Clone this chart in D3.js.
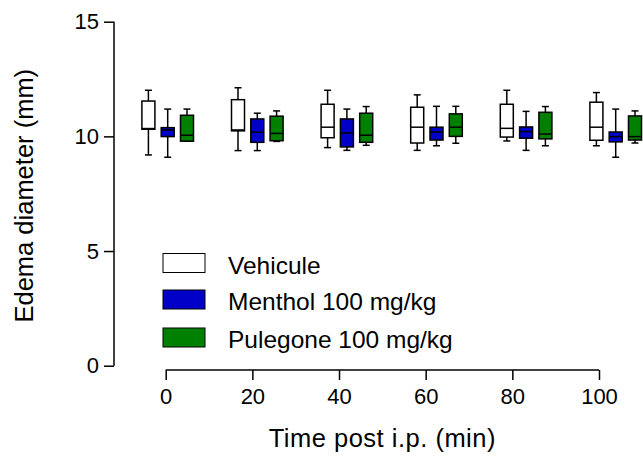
<!DOCTYPE html>
<html>
<head>
<meta charset="utf-8">
<script src="https://cdn.jsdelivr.net/npm/d3@7"></script>
<style>
  html, body { margin: 0; padding: 0; background: #fff; }
  svg { display: block; }
  text { font-family: "Liberation Sans", Arial, sans-serif; fill: #000; }
</style>
</head>
<body>
<script>
// ---- data ----
const times = [0, 20, 40, 60, 80, 100];
const seriesNames = ["Vehicule", "Menthol 100 mg/kg", "Pulegone 100 mg/kg"];
const seriesColors = ["#ffffff", "#0000c8", "#008000"];
const yTicks = [0, 5, 10, 15];
const xTicks = [0, 20, 40, 60, 80, 100];
// five-number summaries per time point: [min, q1, median, q3, max]
const vehicule = [
  [9.19, 10.31, 10.34, 11.54, 12.01],
  [9.38, 10.24, 10.28, 11.60, 12.12],
  [9.51, 9.94, 10.40, 11.40, 12.01],
  [9.39, 9.71, 10.40, 11.27, 11.81],
  [9.80, 9.97, 10.35, 11.40, 12.01],
  [9.59, 9.83, 10.40, 11.49, 11.91]
];
const menthol = [
  [9.09, 9.99, 10.28, 10.38, 11.19],
  [9.38, 9.74, 10.18, 10.76, 11.01],
  [9.39, 9.54, 10.15, 10.76, 11.19],
  [9.59, 9.84, 10.19, 10.40, 11.31],
  [9.39, 9.92, 10.21, 10.41, 11.09],
  [9.09, 9.76, 9.99, 10.19, 11.19]
];
const pulegone = [
  [9.79, 9.79, 10.05, 10.92, 11.19],
  [9.78, 9.81, 10.13, 10.88, 11.11],
  [9.61, 9.74, 10.05, 11.01, 11.30],
  [9.70, 10.00, 10.40, 10.98, 11.31],
  [9.59, 9.89, 10.10, 11.05, 11.30],
  [9.71, 9.84, 9.99, 10.89, 11.11]
];
const seriesData = [vehicule, menthol, pulegone];

// ---- layout ----
const W = 643, H = 461;
const svg = d3.select("body").append("svg").attr("width", W).attr("height", H);

const y = d3.scaleLinear().domain([0, 15]).range([365.7, 21.7]);
const xAxisScale = d3.scaleLinear().domain([0, 100]).range([165.7, 599]);
const xGroup = d3.scaleLinear().domain([0, 100]).range([167.7, 615.7]);
const xSeries = d3.scaleBand().domain(seriesNames).range([-25.8, 25.8]).paddingInner(0.326).paddingOuter(0);

const FONT = "Liberation Sans, Arial, sans-serif";

// y axis
const yAxis = svg.append("g").attr("transform", "translate(114,0)")
  .call(d3.axisLeft(y).tickValues(yTicks).tickSize(10).tickPadding(5).tickFormat(d3.format("d")));
yAxis.select(".domain").attr("stroke", "#000").attr("stroke-width", 1.5).attr("d", `M0,${y(15)}V${y(0)}`);
yAxis.selectAll(".tick line").attr("stroke", "#000").attr("stroke-width", 1.5);
yAxis.selectAll(".tick text").attr("font-size", 22).attr("font-family", FONT).attr("fill", "#000");

// x axis
const xAxis = svg.append("g").attr("transform", "translate(0,370)")
  .call(d3.axisBottom(xAxisScale).tickValues(xTicks).tickSize(10).tickPadding(8).tickFormat(d3.format("d")));
xAxis.select(".domain").attr("stroke", "#000").attr("stroke-width", 1.5).attr("d", `M${xAxisScale(0)},0H${xAxisScale(100)}`);
xAxis.selectAll(".tick line").attr("stroke", "#000").attr("stroke-width", 1.5);
xAxis.selectAll(".tick text").attr("font-size", 22).attr("font-family", FONT).attr("fill", "#000");

// axis titles
svg.append("text")
  .attr("x", (xAxisScale(0) + xAxisScale(100)) / 2).attr("y", 447)
  .attr("text-anchor", "middle").attr("font-size", 25.5).attr("letter-spacing", "0.5px")
  .text("Time post i.p. (min)");
svg.append("text")
  .attr("transform", `translate(33,${(y(0) + y(15)) / 2 + 2}) rotate(-90)`)
  .attr("text-anchor", "middle").attr("font-size", 25.5)
  .text("Edema diameter (mm)");

// boxes
const bw = xSeries.bandwidth();
const capW = 7;
seriesNames.forEach((name, si) => {
  const g = svg.append("g");
  seriesData[si].forEach((s, ti) => {
    const cx = xGroup(times[ti]) + xSeries(name) + bw / 2;
    const [mn, q1, md, q3, mx] = s;
    const line = (x1, y1, x2, y2) => g.append("line")
      .attr("x1", x1).attr("y1", y1).attr("x2", x2).attr("y2", y2)
      .attr("stroke", "#000").attr("stroke-width", 1.5);
    // whiskers
    line(cx, y(mx), cx, y(q3));
    line(cx, y(q1), cx, y(mn));
    line(cx - capW / 2, y(mx), cx + capW / 2, y(mx));
    line(cx - capW / 2, y(mn), cx + capW / 2, y(mn));
    // box
    g.append("rect")
      .attr("x", cx - bw / 2).attr("y", y(q3))
      .attr("width", bw).attr("height", Math.max(0.5, y(q1) - y(q3)))
      .attr("fill", seriesColors[si]).attr("stroke", "#000").attr("stroke-width", 1.5);
    // median
    line(cx - bw / 2, y(md), cx + bw / 2, y(md));
  });
});

// legend
const legendY = [263, 299.5, 337.5];
const leg = svg.append("g");
seriesNames.forEach((name, i) => {
  leg.append("rect")
    .attr("x", 163).attr("y", legendY[i] - 9.5)
    .attr("width", 42).attr("height", 19)
    .attr("fill", seriesColors[i]).attr("stroke", "#000").attr("stroke-width", 1);
  leg.append("text")
    .attr("x", 228).attr("y", legendY[i] + 10.5)
    .attr("font-size", 24.5)
    .text(name);
});
</script>
</body>
</html>
